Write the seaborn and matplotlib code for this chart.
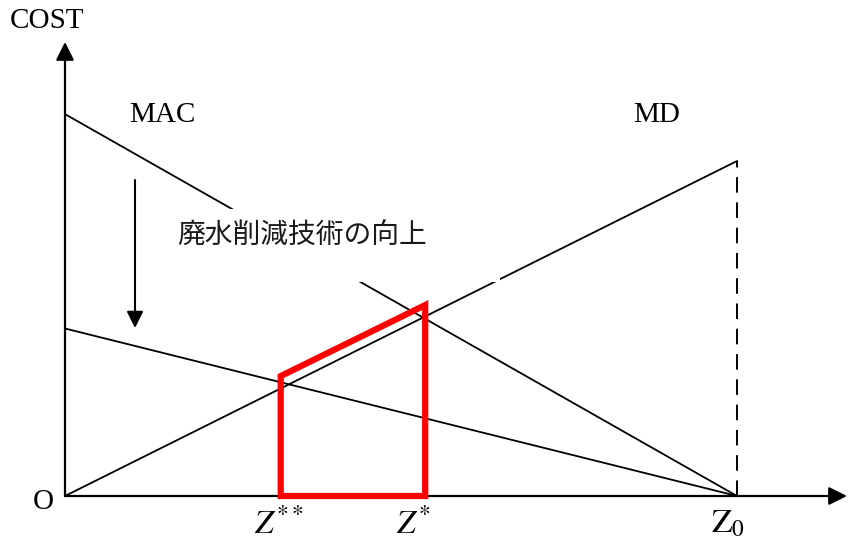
import matplotlib
matplotlib.use("Agg")
import matplotlib.pyplot as plt
import seaborn as sns
import pandas as pd
from matplotlib.patches import Rectangle, Polygon

# ---- data ----
z_ends = [0.0, 10.0]            # O and Z0
mac_before = [11.4, 0.0]        # MAC before technology improvement
mac_after = [5.0, 0.0]          # MAC after improvement
md_vals = [0.0, 10.0]           # MD
z_2star = 3.21
z_star = 5.36
red_top = [3.58, 5.7]           # red area top at Z**, Z*
labels = {"cost": "COST", "mac": "MAC", "md": "MD", "o": "O",
          "note": "廃水削減技術の向上"}

sns.set_style("white")
plt.rcParams["font.family"] = ["Liberation Serif", "Noto Sans CJK JP", "DejaVu Sans"]
plt.rcParams["mathtext.fontset"] = "stix"
plt.rcParams["text.color"] = "black"

fig = plt.figure(figsize=(8.48, 5.46), dpi=100)
ax = fig.add_axes([0, 0, 1, 1])
ax.set_xlim(-65 / 67.2, (848 - 65) / 67.2)
ax.set_ylim(-(546 - 496) / 33.5, 496 / 33.5)
ax.axis("off")

df = pd.DataFrame({"z": z_ends * 3,
                   "cost": mac_before + mac_after + md_vals,
                   "curve": ["MAC1"] * 2 + ["MAC2"] * 2 + ["MD"] * 2})
sns.lineplot(data=df, x="z", y="cost", units="curve", estimator=None,
             color="black", linewidth=1.3, ax=ax, legend=False, zorder=2)

# dashed vertical at Z0
ax.plot([z_ends[1], z_ends[1]], [0, md_vals[1]], color="black", lw=1.4,
        dashes=(8, 5), zorder=2)

# axes arrows
head = "-|>,head_length=1.1,head_width=0.55"
ax.annotate("", xy=((847 - 65) / 67.2, 0), xytext=(0, 0), annotation_clip=False,
            arrowprops=dict(arrowstyle=head, color="black", lw=1.6,
                            shrinkA=0, shrinkB=0), zorder=3)
ax.annotate("", xy=(0, (496 - 42) / 33.5), xytext=(0, 0), annotation_clip=False,
            arrowprops=dict(arrowstyle=head, color="black", lw=1.6,
                            shrinkA=0, shrinkB=0), zorder=3)

# downward arrow (technology improvement)
ax.annotate("", xy=((135 - 65) / 67.2, (496 - 328) / 33.5),
            xytext=((135 - 65) / 67.2, (496 - 180) / 33.5),
            arrowprops=dict(arrowstyle="-|>,head_length=1.0,head_width=0.5",
                            color="black", lw=1.5, shrinkA=0, shrinkB=0), zorder=3)

# white box behind the note
ax.add_patch(Rectangle(((150 - 65) / 67.2, (496 - 282) / 33.5),
                       (500 - 150) / 67.2, (282 - 209) / 33.5,
                       facecolor="white", edgecolor="none", zorder=4))
ax.text((177 - 65) / 67.2, (496 - 236) / 33.5, labels["note"], fontsize=20,
        family=["Noto Sans CJK JP", "DejaVu Sans"], ha="left", va="center",
        color="#1a1a1a", zorder=5)

# red area
ax.add_patch(Polygon([(z_2star, 0), (z_2star, red_top[0]), (z_star, red_top[1]),
                      (z_star, 0)], closed=True, fill=False, edgecolor="#ff0000",
                     linewidth=4.5, joinstyle="miter", zorder=6))

# labels
ax.text((47 - 65) / 67.2, (496 - 21) / 33.5, labels["cost"], fontsize=21,
        ha="center", va="center")
ax.text((162 - 65) / 67.2, (496 - 115) / 33.5, labels["mac"], fontsize=21,
        ha="center", va="center")
ax.text((657 - 65) / 67.2, (496 - 115) / 33.5, labels["md"], fontsize=21,
        ha="center", va="center")
ax.text((43 - 65) / 67.2, (496 - 502) / 33.5, labels["o"], fontsize=21,
        ha="center", va="center")
ax.text((254 - 65) / 67.2, (496 - 524) / 33.5, r"$Z^{**}$", fontsize=24,
        ha="left", va="center")
ax.text((396 - 65) / 67.2, (496 - 524) / 33.5, r"$Z^{*}$", fontsize=24,
        ha="left", va="center")
ax.text((711 - 65) / 67.2, (496 - 524) / 33.5, r"$\mathrm{Z}_{\mathrm{0}}$", fontsize=24,
        ha="left", va="center")

fig.savefig("out.png", dpi=100)
